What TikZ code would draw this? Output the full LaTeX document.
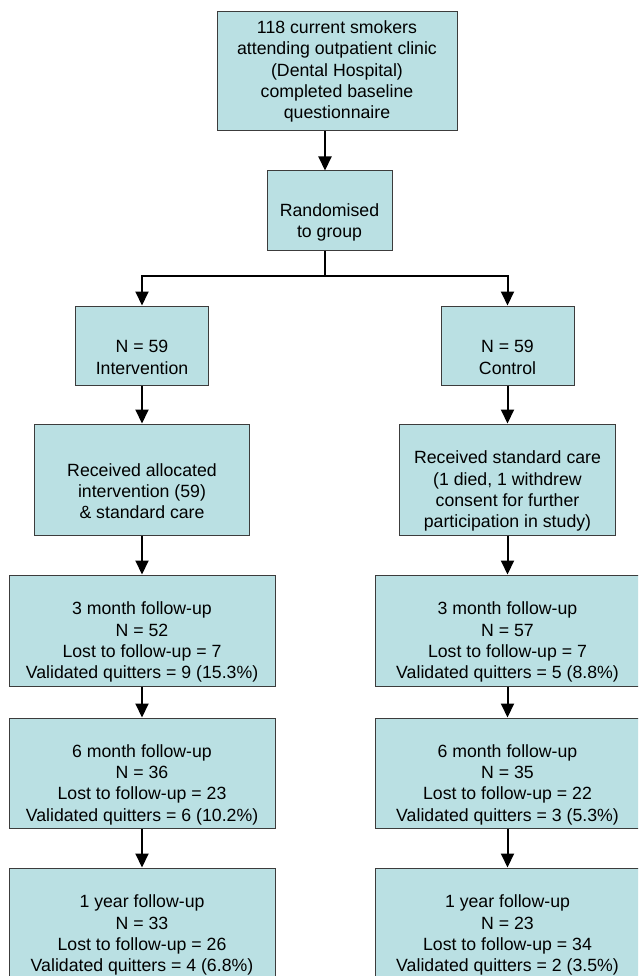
\documentclass[tikz,border=0pt]{standalone}
\usepackage{fontspec}
\setmainfont{Liberation Sans}
\usetikzlibrary{arrows.meta}
\definecolor{boxfill}{RGB}{186,224,227}
\definecolor{boxline}{RGB}{60,60,60}
\begin{document}
\begin{tikzpicture}[x=1pt,y=-1pt,
>={Triangle[width=13pt,length=14pt]},
box/.style={
% The shape:
rectangle,
draw=boxline,
fill=boxfill,
line width=1pt,
inner sep=0pt,
% The text:
align=center,
font=\fontsize{17.7}{21.3}\selectfont
},
small/.style={box,minimum width=133pt,minimum height=79pt},
medium/.style={box,minimum width=216pt,minimum height=111pt},
wide/.style={box,minimum width=264pt,minimum height=111pt},
link/.style={line width=2pt}
]
\clip (0,0) rectangle (638,976);
% Top of the chart:
\node (smokers) [box,minimum width=240pt,minimum height=119pt] at (337,71.5) {118 current smokers\\attending outpatient clinic\\(Dental Hospital)\\completed baseline\\questionnaire};
\node (random) [small,minimum width=125pt] at (329.5,210.5) {\strut\\Randomised\\to group};
\coordinate (split) at (325,276);
% Left column:
\node (interv) [small] at (142,345.5) {\strut\\N = 59\\Intervention};
\node (alloc) [medium,minimum width=215pt] at (142,479.5) {\strut\\Received allocated\\intervention (59)\\\& standard care};
\node (threei) [wide,minimum width=266pt] at (142,630.5) {\strut\\3 month follow-up\\N = 52\\Lost to follow-up = 7\\Validated quitters = 9 (15.3\%)};
\node (sixi) [wide,minimum width=266pt,minimum height=110pt] at (142,773) {\strut\\6 month follow-up\\N = 36\\Lost to follow-up = 23\\Validated quitters = 6 (10.2\%)};
\node (yeari) [wide,minimum width=266pt] at (142,923.5) {\strut\\1 year follow-up\\N = 33\\Lost to follow-up = 26\\Validated quitters = 4 (6.8\%)};
% Right column:
\node (control) [small] at (507.5,345.5) {\strut\\N = 59\\Control};
\node (care) [medium] at (507.5,479.5) {\strut\\Received standard care\\(1 died, 1 withdrew\\consent for further\\participation in study)};
\node (threec) [wide] at (507.5,630.5) {\strut\\3 month follow-up\\N = 57\\Lost to follow-up = 7\\Validated quitters = 5 (8.8\%)};
\node (sixc) [wide,minimum height=110pt] at (507.5,773) {\strut\\6 month follow-up\\N = 35\\Lost to follow-up = 22\\Validated quitters = 3 (5.3\%)};
\node (yearc) [wide] at (507.5,923.5) {\strut\\1 year follow-up\\N = 23\\Lost to follow-up = 34\\Validated quitters = 2 (3.5\%)};
\draw[link,->] (split |- smokers.south) -- (split |- random.north);
\draw[link] (split |- random.south) -- (split);
\draw[link,->] (split) -| (interv.north);
\draw[link,->] (split) -| (control.north);
\path[link] (interv) edge[->] (alloc) (alloc) edge[->] (threei) (threei) edge[->] (sixi) (sixi) edge[->] (yeari);
\path[link] (control) edge[->] (care) (care) edge[->] (threec) (threec) edge[->] (sixc) (sixc) edge[->] (yearc);
\end{tikzpicture}
\end{document}
